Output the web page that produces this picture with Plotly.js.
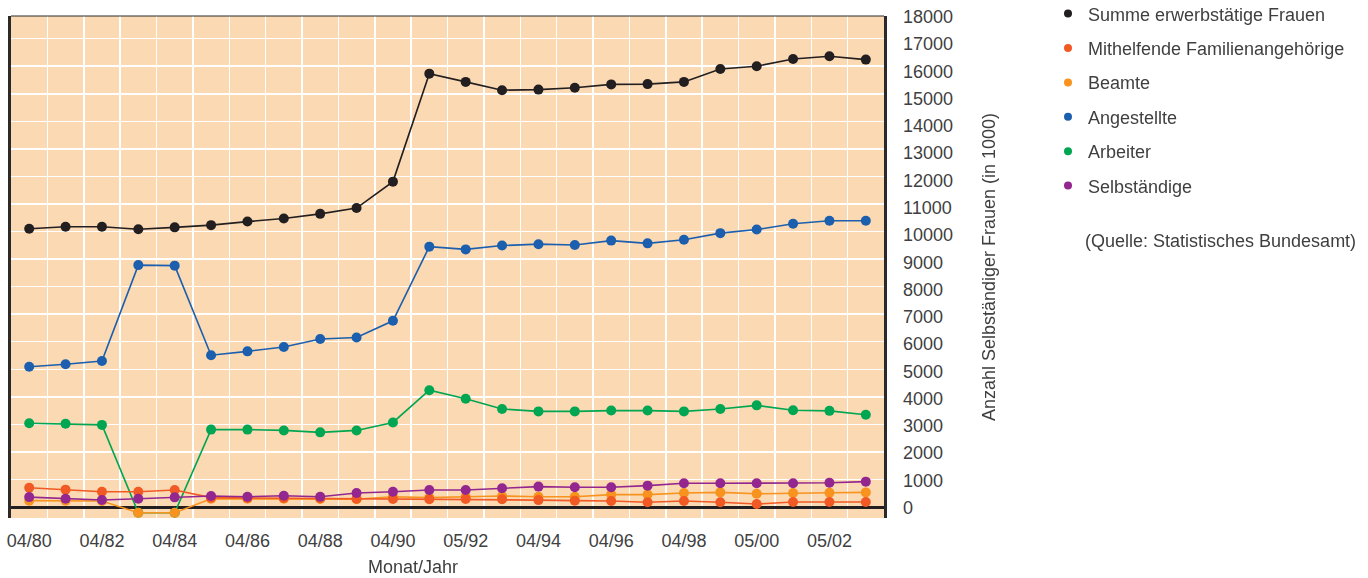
<!DOCTYPE html>
<html>
<head>
<meta charset="utf-8">
<script src="https://cdn.plot.ly/plotly-3.0.1.min.js"></script>
<style>html,body{margin:0;padding:0;background:#fff;}#chart{width:1368px;height:578px;}</style>
</head>
<body>
<div id="chart"></div>
<script>
const categories = ['04/80','04/81','04/82','04/83','04/84','04/85','04/86','04/87','04/88','04/89','04/90','04/91','05/92','05/93','04/94','04/95','04/96','04/97','04/98','04/99','05/00','05/01','05/02','05/03'];
const shownLabels = ['04/80','04/82','04/84','04/86','04/88','04/90','05/92','04/94','04/96','04/98','05/00','05/02'];

const summe       = [10100,10170,10170,10080,10150,10230,10360,10470,10640,10850,11810,15730,15430,15130,15150,15220,15340,15350,15430,15900,16000,16260,16360,16240];
const angestellte = [5090,5180,5300,8780,8760,5510,5650,5810,6100,6150,6760,9450,9350,9490,9540,9510,9670,9570,9700,9940,10070,10280,10390,10390];
const arbeiter    = [3040,3020,2980,-210,-210,2810,2810,2780,2710,2780,3070,4240,3930,3560,3470,3470,3500,3500,3470,3560,3690,3510,3490,3350];
const beamte      = [230,230,220,-210,-210,300,300,300,290,280,370,340,370,400,370,370,450,450,510,530,480,510,520,530];
const mithelfende = [700,630,555,555,615,340,330,330,320,300,290,280,290,280,250,230,220,170,220,170,110,180,180,180];
const selbst      = [360,300,255,300,350,400,375,410,375,510,555,615,615,680,740,715,715,775,860,860,860,860,880,920];

const yTickVals = [0,1000,2000,3000,4000,5000,6000,7000,8000,9000,10000,11000,12000,13000,14000,15000,16000,17000,18000];

// draw order (bottom to top) and legend rank
const series = [
  {name:'Summe erwerbstätige Frauen', y:summe, color:'#231f20', rank:1},
  {name:'Angestellte', y:angestellte, color:'#1b5fae', rank:4},
  {name:'Arbeiter', y:arbeiter, color:'#00a651', rank:5},
  {name:'Beamte', y:beamte, color:'#f7931e', rank:3},
  {name:'Mithelfende Familienangehörige', y:mithelfende, color:'#f15a24', rank:2},
  {name:'Selbständige', y:selbst, color:'#93278f', rank:6}
];

const traces = [];
// invisible helper so that the right-hand label axis is drawn
traces.push({
  type:'scatter', mode:'markers', x:categories, y:summe, yaxis:'y2',
  opacity:0, showlegend:false, hoverinfo:'skip', marker:{size:1}
});
series.forEach(s => {
  traces.push({
    type:'scatter', mode:'lines+markers', x:categories, y:s.y, name:s.name,
    showlegend:false, hoverinfo:'skip',
    line:{color:s.color, width:1.6},
    marker:{color:s.color, size:10, line:{width:0}},
    cliponaxis:false
  });
  traces.push({
    type:'scatter', mode:'markers', x:categories, y:s.y, name:s.name,
    legendgroup:'g'+s.rank, legendrank:s.rank, showlegend:true,
    marker:{color:s.color, size:8, line:{width:0}},
    cliponaxis:false
  });
});

const textColor = '#3f3f3f';
const font = 'Liberation Sans, Arial, Helvetica, sans-serif';

const layout = {
  width:1368, height:578,
  margin:{l:11, r:484, t:16, b:60, autoexpand:false},
  paper_bgcolor:'#ffffff',
  plot_bgcolor:'#fbd9b3',
  font:{family:font, size:18, color:textColor},
  showlegend:true,
  legend:{
    xref:'paper', yref:'paper',
    x:(1048-11)/873, y:(518+4.6)/502, xanchor:'left', yanchor:'top',
    traceorder:'grouped', tracegroupgap:8,
    font:{family:font, size:18, color:textColor},
    bgcolor:'rgba(0,0,0,0)', borderwidth:0
  },
  xaxis:{
    type:'category', range:[-0.5, 23.5],
    tickmode:'array', tickvals:categories,
    ticktext:categories.map(c => shownLabels.includes(c) ? c : ''),
    tickson:'boundaries', ticks:'', tickangle:0,
    showgrid:true, gridcolor:'#ffffff', gridwidth:1.5,
    showline:false, zeroline:false,
    ticklabelstandoff:10,
    tickfont:{family:font, size:18, color:textColor},
    fixedrange:true
  },
  yaxis:{
    range:[-399, 17822],
    tickmode:'linear', tick0:0, dtick:1000,
    showticklabels:false, ticks:'',
    showgrid:true, gridcolor:'#ffffff', gridwidth:1.5,
    zeroline:true, zerolinecolor:'#231f20', zerolinewidth:3,
    showline:true, mirror:true, linecolor:'#2a2a2a', linewidth:3,
    fixedrange:true
  },
  yaxis2:{
    overlaying:'y', side:'right', anchor:'x',
    range:[-380, 18030],
    tickmode:'array', tickvals:yTickVals,
    ticktext:yTickVals.map(v => String(v)),
    ticks:'', showgrid:false, zeroline:false, showline:false,
    ticklabelstandoff:18,
    tickfont:{family:font, size:18, color:textColor},
    title:{text:'Anzahl Selbständiger Frauen (in 1000)', font:{family:font, size:18, color:textColor}, standoff:30},
    fixedrange:true
  },
  shapes:[
    {type:'line', xref:'paper', yref:'paper', x0:0, x1:1, y0:1, y1:1, line:{color:'#2a2a2a', width:1.2}}
  ],
  annotations:[
    {text:'Monat/Jahr', xref:'paper', yref:'paper', x:(413-11)/873, y:(518-567)/502,
     xanchor:'center', yanchor:'middle', showarrow:false, font:{family:font, size:18, color:textColor}},
    {text:'(Quelle: Statistisches Bundesamt)', xref:'paper', yref:'paper', x:(1083-11)/873, y:(518-241)/502,
     xanchor:'left', yanchor:'middle', showarrow:false, font:{family:font, size:18, color:textColor}}
  ]
};

Plotly.newPlot('chart', traces, layout, {displayModeBar:false, staticPlot:true});
</script>
</body>
</html>
